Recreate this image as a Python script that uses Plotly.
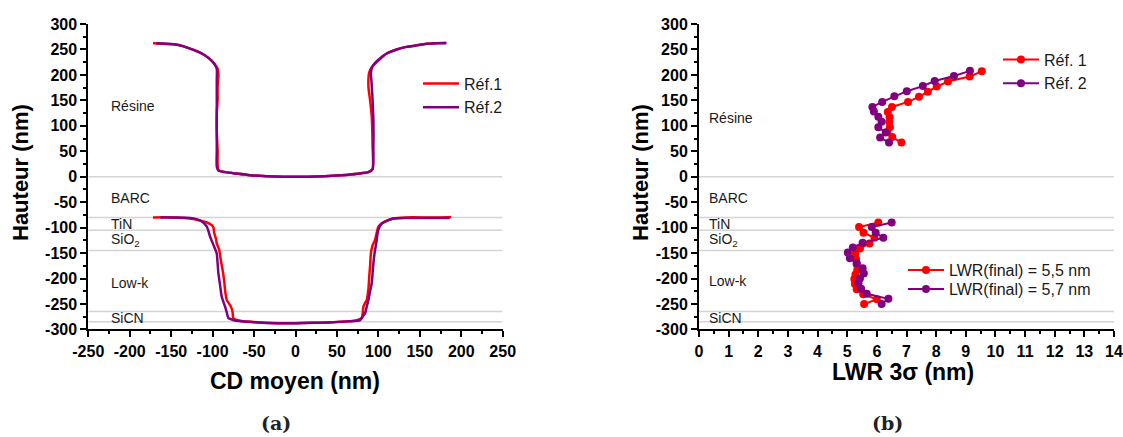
import plotly.graph_objects as go

# ---------------- data ----------------
# (a) CD profiles: top (resist) and bottom (etched stack) segments
ref1_top_x = [-172, -160, -147, -135, -123, -112, -104, -98, -94, -93, -94, -94, -95, -95, -94, -93,
              -85, -75, -55, -35, -15, 0, 15, 35, 55, 75, 88, 93, 93, 92, 90, 88, 89, 92, 100, 110,
              122, 134, 146, 158, 170, 182]
ref1_top_y = [262, 261, 260, 256, 249, 241, 232, 222, 212, 200, 177, 150, 124, 90, 52, 13,
              9, 7, 3, 1, 0, 0, 0, 1, 3, 6, 9, 15, 60, 118, 150, 177, 205, 215, 228, 242,
              250, 255, 258, 261, 262, 263]
ref1_bot_x = [-172, -150, -127, -111, -104, -101, -99, -98, -96, -95, -92, -90, -88, -86, -85, -83,
              -80, -78, -76, -75, -70, -63, -45, -20, 0, 20, 45, 65, 74, 80, 82, 84, 86, 88, 89,
              90, 91, 93, 96, 98, 100, 104, 108, 118, 135, 158, 175, 188]
ref1_bot_y = [-80, -80, -82, -88, -92, -95, -100, -111, -122, -131, -144, -165, -183, -205, -223, -242,
              -250, -255, -265, -278, -282, -284, -286, -288, -288, -287, -286, -284, -282, -277, -255,
              -248, -242, -220, -196, -175, -150, -135, -124, -110, -98, -92, -88, -82, -80, -80, -80, -79]

ref2_top_x = [-168, -147, -135, -123, -112, -104, -98, -95, -95, -95, -95, -95, -95, -93, -85, -75,
              -55, -35, -15, 0, 15, 35, 55, 75, 88, 93, 94, 94, 93, 92, 91, 93, 100, 110, 122, 134,
              146, 158, 170, 182]
ref2_top_y = [262, 260, 256, 249, 241, 232, 222, 212, 190, 150, 100, 52, 20, 12, 9, 7,
              3, 1, 0, 0, 0, 1, 3, 6, 9, 15, 60, 110, 150, 180, 205, 217, 230, 242, 250, 255,
              258, 261, 262, 262]
ref2_bot_x = [-163, -145, -127, -115, -107, -103, -98, -95, -94, -93, -91, -89, -87, -85, -83, -81,
              -76, -71, -50, -20, 0, 20, 45, 65, 74, 78, 81, 84, 86, 88, 90, 92, 93, 94, 95, 96,
              98, 99, 101, 104, 110, 118, 135, 158, 175, 186]
ref2_bot_y = [-80, -80, -81, -86, -98, -118, -138, -151, -170, -190, -213, -236, -246, -255, -266, -278,
              -281, -283, -286, -288, -288, -287, -286, -284, -283, -282, -275, -268, -255, -242, -225,
              -209, -190, -170, -155, -144, -125, -111, -100, -92, -87, -82, -81, -81, -81, -81]

# (b) LWR 3sigma profiles
lwr1_top_x = [9.54, 9.13, 8.40, 8.02, 7.72, 7.42, 7.05, 6.51, 6.37, 6.43, 6.42, 6.44, 6.35, 6.52, 6.83]
lwr1_top_y = [207, 197, 187, 177, 167, 157, 147, 137, 127, 117, 108, 97, 88, 78, 67]
lwr2_top_x = [9.14, 8.60, 7.95, 7.55, 7.01, 6.59, 6.18, 5.85, 5.90, 6.05, 6.16, 6.05, 6.30, 6.11, 6.41]
lwr2_top_y = [208, 198, 188, 178, 168, 158, 147, 137, 128, 118, 108, 97, 87, 77, 67]

lwr1_bot_x = [6.05, 5.40, 5.55, 5.92, 5.75, 5.43, 5.27, 5.30, 5.32, 5.34, 5.28, 5.24, 5.26, 5.32, 5.54, 6.00, 5.57]
lwr1_bot_y = [-90, -99, -110, -120, -131, -141, -152, -162, -172, -183, -192, -201, -211, -221, -231, -241, -250]
lwr2_bot_x = [6.50, 5.83, 5.96, 6.22, 5.52, 5.19, 5.02, 5.09, 5.32, 5.52, 5.56, 5.43, 5.38, 5.47, 5.66, 6.39, 6.16]
lwr2_bot_y = [-90, -99, -110, -120, -130, -139, -149, -160, -170, -180, -190, -200, -209, -220, -230, -240, -250]

# layer interfaces and labels
interfaces = [0, -80, -105, -145, -265, -285]
layer_names = ["Résine", "BARC", "TiN", "SiO<sub>2</sub>", "Low-k", "SiCN"]
layer_y_a = [139, -42, -92, -124, -209, -277]
layer_y_b = [115, -42, -92, -124, -204, -278]

legend_a = ["Réf.1", "Réf.2"]
legend_b_top = ["Réf. 1", "Réf. 2"]
legend_b_bot = ["LWR(final) = 5,5 nm", "LWR(final) = 5,7 nm"]

y_ticks = list(range(-300, 301, 50))
y_ticktext = [str(v) for v in y_ticks]
xa_ticks = list(range(-250, 251, 50))
xa_ticktext = [str(v) for v in xa_ticks]
xb_ticks = list(range(0, 15))
xb_ticktext = [str(v) for v in xb_ticks]

RED = "#ff0000"
PURPLE = "#800080"
FONT = "Arial, Liberation Sans, sans-serif"


def bold(labels):
    return ["<b>%s</b>" % t for t in labels]


fig = go.Figure()

# ---- panel (a) ----
for name, col, tx, ty, bx, by in [
    (legend_a[0], RED, ref1_top_x, ref1_top_y, ref1_bot_x, ref1_bot_y),
    (legend_a[1], PURPLE, ref2_top_x, ref2_top_y, ref2_bot_x, ref2_bot_y),
]:
    fig.add_trace(go.Scatter(
        x=tx + [None] + bx, y=ty + [None] + by, mode="lines", name=name,
        line=dict(color=col, width=2.5, shape="spline", smoothing=0.6),
        xaxis="x", yaxis="y", legend="legend", connectgaps=False))

# ---- panel (b) ----
for name, col, xs, ys, leg in [
    (legend_b_top[0], RED, lwr1_top_x, lwr1_top_y, "legend2"),
    (legend_b_top[1], PURPLE, lwr2_top_x, lwr2_top_y, "legend2"),
    (legend_b_bot[0], RED, lwr1_bot_x, lwr1_bot_y, "legend3"),
    (legend_b_bot[1], PURPLE, lwr2_bot_x, lwr2_bot_y, "legend4"),
]:
    fig.add_trace(go.Scatter(
        x=xs, y=ys, mode="lines+markers", name=name,
        line=dict(color=col, width=2), marker=dict(color=col, size=8),
        xaxis="x2", yaxis="y2", legend=leg))

shapes = []
for yv in interfaces:
    shapes.append(dict(type="line", xref="x", yref="y", x0=-250, x1=250, y0=yv, y1=yv,
                       line=dict(color="#d4d4d4", width=1.5), layer="below"))
    shapes.append(dict(type="line", xref="x2", yref="y2", x0=0, x1=14, y0=yv, y1=yv,
                       line=dict(color="#d4d4d4", width=1.5), layer="below"))

annotations = []
for nm, ya, yb in zip(layer_names, layer_y_a, layer_y_b):
    annotations.append(dict(x=-225, y=ya, xref="x", yref="y", text=nm, showarrow=False,
                            xanchor="left", yanchor="middle",
                            font=dict(family=FONT, size=14, color="#1a1a1a")))
    annotations.append(dict(x=0.26, y=yb, xref="x2", yref="y2", text=nm, showarrow=False,
                            xanchor="left", yanchor="middle",
                            font=dict(family=FONT, size=14, color="#1a1a1a")))

ytitle_font = dict(family=FONT, size=22, color="black", weight="bold")
xtitle_font = dict(family=FONT, size=23, color="black", weight="bold")
serif_font = dict(family="DejaVu Serif, serif", size=19, color="#222", weight="bold")
annotations += [
    dict(x=21 / 1123, y=1 - 173 / 437, xref="paper", yref="paper", text="Hauteur (nm)",
         textangle=-90, showarrow=False, font=ytitle_font, xanchor="center", yanchor="middle"),
    dict(x=641 / 1123, y=1 - 173 / 437, xref="paper", yref="paper", text="Hauteur (nm)",
         textangle=-90, showarrow=False, font=ytitle_font, xanchor="center", yanchor="middle"),
    dict(x=295 / 1123, y=1 - 381 / 437, xref="paper", yref="paper", text="CD moyen (nm)",
         showarrow=False, font=xtitle_font, xanchor="center", yanchor="middle"),
    dict(x=903 / 1123, y=1 - 372 / 437, xref="paper", yref="paper", text="LWR 3σ (nm)",
         showarrow=False, font=xtitle_font, xanchor="center", yanchor="middle"),
    dict(x=276 / 1123, y=1 - 423 / 437, xref="paper", yref="paper", text="(a)",
         showarrow=False, font=serif_font, xanchor="center", yanchor="middle"),
    dict(x=887 / 1123, y=1 - 423 / 437, xref="paper", yref="paper", text="(b)",
         showarrow=False, font=serif_font, xanchor="center", yanchor="middle"),
]

tick_font = dict(family="Liberation Sans, Arial, sans-serif", size=16, color="black", weight="bold")
common_axis = dict(showgrid=False, zeroline=False, showline=True, linecolor="black", linewidth=2,
                   ticks="outside", ticklen=6, tickwidth=1.5, tickcolor="black",
                   tickfont=tick_font, automargin=False, fixedrange=True)
ydom = [1 - 329.4 / 437, 1 - 24 / 437]

leg_font = dict(family=FONT, size=16, color="#1a1a1a")
fig.update_layout(
    width=1123, height=437, margin=dict(l=0, r=0, t=0, b=0),
    paper_bgcolor="white", plot_bgcolor="white",
    xaxis=dict(domain=[88.3 / 1123, 502.7 / 1123], range=[-250, 250], anchor="y",
               tickvals=xa_ticks, ticktext=bold(xa_ticktext),
               minor=dict(dtick=25, ticklen=3, tickwidth=1.5, tickcolor="black", ticks="outside"),
               **common_axis),
    yaxis=dict(domain=ydom, range=[-300, 300], anchor="x",
               tickvals=y_ticks, ticktext=bold(y_ticktext),
               minor=dict(dtick=25, ticklen=3, tickwidth=1.5, tickcolor="black", ticks="outside"),
               **common_axis),
    xaxis2=dict(domain=[699 / 1123, 1114 / 1123], range=[0, 14], anchor="y2",
                tickvals=xb_ticks, ticktext=bold(xb_ticktext),
                minor=dict(dtick=0.5, ticklen=3, tickwidth=1.5, tickcolor="black", ticks="outside"),
                **common_axis),
    yaxis2=dict(domain=ydom, range=[-300, 300], anchor="x2",
                tickvals=y_ticks, ticktext=bold(y_ticktext),
                minor=dict(dtick=25, ticklen=3, tickwidth=1.5, tickcolor="black", ticks="outside"),
                **common_axis),
    legend=dict(x=418 / 1123, y=1 - 66.5 / 437, xanchor="left", yanchor="top", itemwidth=36,
                bgcolor="rgba(0,0,0,0)", font=leg_font),
    legend2=dict(x=998 / 1123, y=1 - 42.5 / 437, xanchor="left", yanchor="top", itemwidth=36,
                 bgcolor="rgba(0,0,0,0)", font=leg_font),
    legend3=dict(x=903 / 1123, y=1 - 253 / 437, xanchor="left", yanchor="top", itemwidth=36,
                 bgcolor="rgba(0,0,0,0)", font=leg_font),
    legend4=dict(x=903 / 1123, y=1 - 272 / 437, xanchor="left", yanchor="top", itemwidth=36,
                 bgcolor="rgba(0,0,0,0)", font=leg_font),
    shapes=shapes, annotations=annotations, showlegend=True,
)

css = (".xtick text, .ytick text, .x2tick text, .y2tick text, "
       ".xtick tspan, .ytick tspan, .x2tick tspan, .y2tick tspan"
       "{font-weight:700 !important;}")
fig.write_html("out.html", config={"displayModeBar": False},
               post_script="document.body.style.margin='0';document.body.style.padding='0';"
                           "document.documentElement.style.overflow='hidden';"
                           "var s=document.createElement('style');s.textContent='" + css + "';"
                           "document.head.appendChild(s);")
